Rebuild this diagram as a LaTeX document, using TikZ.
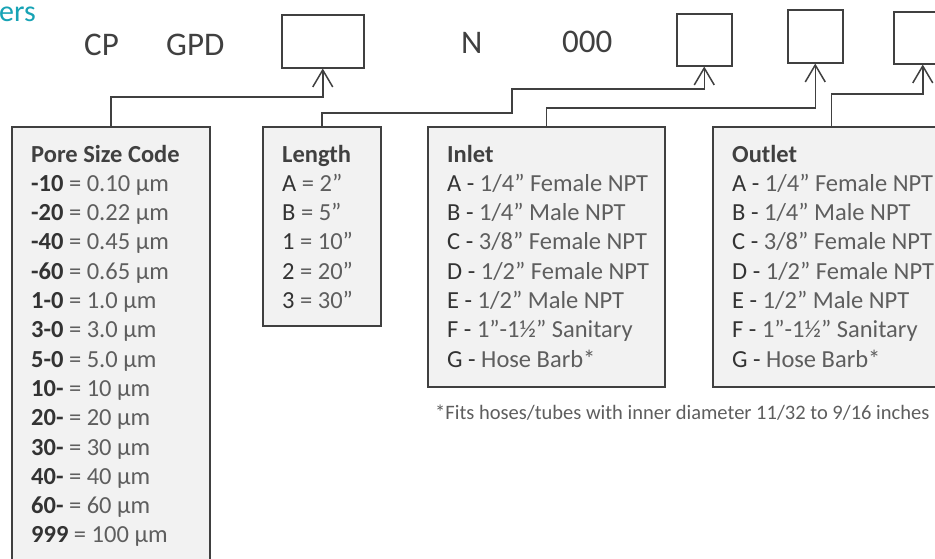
\documentclass[tikz,border=0pt]{standalone}
\usepackage{fontspec}
\setmainfont{Carlito}
\usetikzlibrary{arrows.meta}
\definecolor{ink}{HTML}{404040}
\definecolor{val}{HTML}{5E5E5E}
\definecolor{codec}{HTML}{333333}
\definecolor{boxfill}{HTML}{F2F2F2}
\definecolor{teal}{RGB}{23,163,181}
\newcommand{\cd}[1]{{\color{codec}#1}}
\newcommand{\cdb}[1]{{\color{codec}\bfseries #1}}
\begin{document}
\begin{tikzpicture}[x=1pt,y=-1pt,
  boxshape/.style={draw=ink,line width=1.5pt,fill=boxfill,inner sep=0pt,anchor=north west,rectangle},
  topbox/.style={draw=ink,line width=1.5pt,fill=white,inner sep=0pt,anchor=north west,rectangle},
  conn/.style={draw=ink,line width=1.5pt,-{Straight Barb[length=17pt,width=20pt]}},
  bigtxt/.style={inner sep=0pt,anchor=base west,text=ink,font=\fontsize{33}{40}\selectfont},
  rowtxt/.style={inner sep=0pt,anchor=base west,text=val,font=\fontsize{24.5}{29}\selectfont},
  titletxt/.style={inner sep=0pt,anchor=base west,text=ink,font=\fontsize{24.5}{29}\selectfont\bfseries},
  notetxt/.style={inner sep=0pt,anchor=base west,text=val,font=\fontsize{20.5}{25}\selectfont}]
\clip (0,0) rectangle (935,558);
\fill[white] (0,0) rectangle (935,558);

% header texts
\node[inner sep=0pt,anchor=base west,text=teal,font=\fontsize{30}{36}\selectfont] (hdr) at (-1,21) {ers};
\node[bigtxt] (tcp) at (84,55) {CP};
\node[bigtxt] (tgpd) at (166,55) {GPD};
\node[bigtxt] (tn) at (461,53) {N};
\node[bigtxt] (tz) at (562,52) {000};

% top boxes
\node[topbox,minimum width=82pt,minimum height=53pt] (b1) at (281,14) {};
\node[topbox,minimum width=55pt,minimum height=52pt] (b2) at (676,13) {};
\node[topbox,minimum width=55pt,minimum height=53pt] (b3) at (787,9) {};
\node[topbox,minimum width=58pt,minimum height=52pt] (b4) at (893,11) {};

% lower boxes
\node[boxshape,minimum width=198pt,minimum height=480pt] (pore) at (11,126) {};
\node[boxshape,minimum width=118pt,minimum height=199pt] (len) at (262,126) {};
\node[boxshape,minimum width=237pt,minimum height=260pt] (inlet) at (427,126) {};
\node[boxshape,minimum width=237pt,minimum height=260pt] (outlet) at (712,126) {};

% connectors
\draw[conn] (pore.north) -- (pore.north |- 0,97) -| (b1.south);
\coordinate (k1) at (512,113);
\coordinate (k2) at (512,89);
\draw[conn] (len.north) -- (len.north |- k1) -- (k1) -- (k2) -| (b2.south);
\draw[conn] (inlet.north) -- (inlet.north |- 0,108) -| (b3.south);
\draw[conn] (outlet.north) -- (outlet.north |- 0,94) -| (b4.south);

% pore size text
\node[titletxt] (pt) at (31,162) {Pore Size Code};
\foreach \t [count=\i] in {
  {\cdb{-10} = 0.10 µm},
  {\cdb{-20} = 0.22 µm},
  {\cdb{-40} = 0.45 µm},
  {\cdb{-60} = 0.65 µm},
  {\cdb{1-0} = 1.0 µm},
  {\cdb{3-0} = 3.0 µm},
  {\cdb{5-0} = 5.0 µm},
  {\cdb{10-} = 10 µm},
  {\cdb{20-} = 20 µm},
  {\cdb{30-} = 30 µm},
  {\cdb{40-} = 40 µm},
  {\cdb{60-} = 60 µm},
  {\cdb{999} = 100 µm}}
  \node[rowtxt] (p\i) at (31,162+29.3*\i) {\t};

% length text
\node[titletxt] (lt) at (282,162) {Length};
\foreach \t [count=\i] in {
  {\cd{A} = 2”},
  {\cd{B} = 5”},
  {\cd{1} = 10”},
  {\cd{2} = 20”},
  {\cd{3} = 30”}}
  \node[rowtxt] (l\i) at (282,162+29.3*\i) {\t};

% inlet text
\node[titletxt] (it) at (447,162) {Inlet};
\foreach \t [count=\i] in {
  {\cd{A -} 1/4” Female NPT},
  {\cd{B -} 1/4” Male NPT},
  {\cd{C -} 3/8” Female NPT},
  {\cd{D -} 1/2” Female NPT},
  {\cd{E -} 1/2” Male NPT},
  {\cd{F -} 1”-1½” Sanitary},
  {\cd{G -} Hose Barb*}}
  \node[rowtxt] (i\i) at (447,162+29.3*\i) {\t};

% outlet text
\node[titletxt] (ot) at (732,162) {Outlet};
\foreach \t [count=\i] in {
  {\cd{A -} 1/4” Female NPT},
  {\cd{B -} 1/4” Male NPT},
  {\cd{C -} 3/8” Female NPT},
  {\cd{D -} 1/2” Female NPT},
  {\cd{E -} 1/2” Male NPT},
  {\cd{F -} 1”-1½” Sanitary},
  {\cd{G -} Hose Barb*}}
  \node[rowtxt] (o\i) at (732,162+29.3*\i) {\t};

% footnote
\node[notetxt] (fn) at (435,419) {*Fits hoses/tubes with inner diameter 11/32 to 9/16 inches};
\end{tikzpicture}
\end{document}
